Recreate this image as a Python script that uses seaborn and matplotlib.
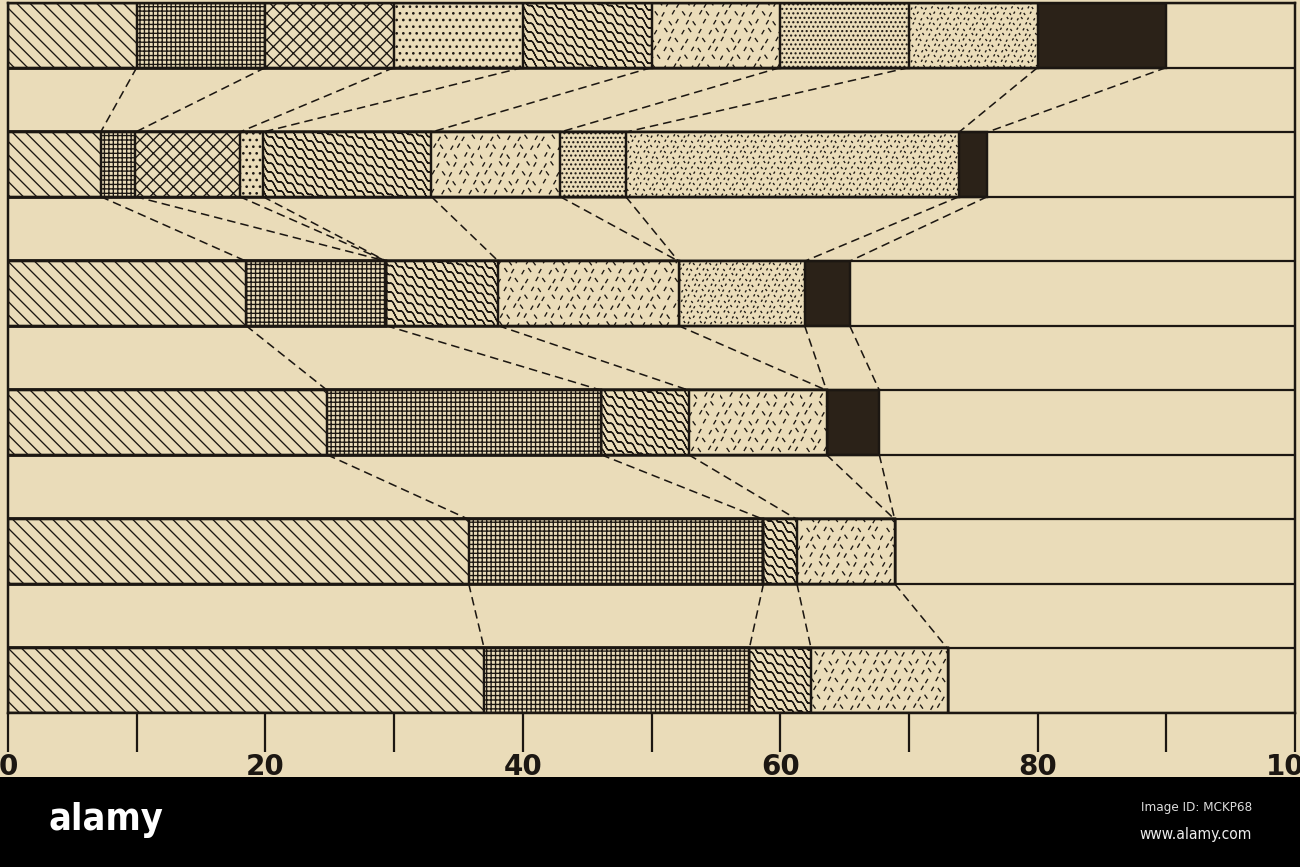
import warnings
import numpy as np
import pandas as pd
import seaborn as sns
import matplotlib
matplotlib.use("Agg")
import matplotlib.pyplot as plt
from matplotlib import hatch as mhatch
from matplotlib.path import Path
from matplotlib.patches import Rectangle
from matplotlib.ticker import MultipleLocator

# custom hatch chars ('~', ',', ':') are not in matplotlib's list -> silence the warning
warnings.filterwarnings("ignore", category=matplotlib.MatplotlibDeprecationWarning)

# percentage composition of each sample (top to bottom)
samples = ["1", "2", "3", "4", "5", "6"]
components = ["diagonal", "grid", "crosshatch", "dots", "waves",
              "dashes", "fine dots", "medium dots", "black"]
diagonal = [10.0, 7.2, 18.5, 24.8, 35.8, 37.0]
grid = [10.0, 2.7, 10.9, 21.3, 22.9, 20.6]
crosshatch = [10.0, 8.1, 0.0, 0.0, 0.0, 0.0]
dots = [10.0, 1.8, 0.0, 0.0, 0.0, 0.0]
waves = [10.0, 13.1, 8.7, 6.8, 2.6, 4.8]
dashes = [10.0, 10.0, 14.0, 10.7, 7.6, 10.6]
fine_dots = [10.0, 5.1, 0.0, 0.0, 0.0, 0.0]
medium_dots = [10.0, 25.9, 9.8, 0.0, 0.0, 0.0]
black = [10.0, 2.2, 3.5, 4.1, 0.0, 0.0]
tick_labels = ["0", "20", "40", "60", "80", "100"]

PAPER = "#eadcb9"
INK = "#1c1712"
DARK = "#2b2218"

hatches = {"diagonal": "\\\\", "grid": "+++", "crosshatch": "xx", "dots": "..",
           "waves": "~", "dashes": ",", "fine dots": "...", "medium dots": ":",
           "black": None}


# --- extra hatch patterns: wavy lines, short dashes, speckles ---
class WaveHatch(mhatch.HatchPatternBase):
    steps = 96

    def __init__(self, hatch, density):
        self.num_lines = int(hatch.count("~") * density * 1.5)
        self.num_vertices = (2 * self.num_lines + 1) * self.steps * 2 if self.num_lines else 0

    def set_vertices_and_codes(self, vertices, codes):
        n = self.num_lines
        t = np.linspace(0.0, 1.0, self.steps + 1)
        wave = 0.022 * np.sin(2 * np.pi * 8 * t)
        k = 0
        for j in range(2 * n + 1):
            seg = np.column_stack([t, j / n - t + wave])
            vertices[k:k + 2 * self.steps:2] = seg[:-1]
            vertices[k + 1:k + 2 * self.steps:2] = seg[1:]
            k += 2 * self.steps
        codes[0::2] = Path.MOVETO
        codes[1::2] = Path.LINETO


class StrokeHatch(mhatch.HatchPatternBase):
    char, scale, length = ",", 1.5, 0.045

    def __init__(self, hatch, density):
        self.n = int(hatch.count(self.char) * density * self.scale)
        self.num_vertices = 2 * self.n * self.n

    def set_vertices_and_codes(self, vertices, codes):
        n = self.n
        i, j = np.meshgrid(np.arange(n), np.arange(n))
        i, j = i.ravel(), j.ravel()
        jx = ((i * 7 + j * 3) % 5 - 2) * 0.08
        jy = ((i * 2 + j * 5) % 3 - 1) * 0.12
        cx = (i + 0.5 * (j % 2) + 0.25 + jx) / n
        cy = (j + 0.5 + jy) / n
        ang = np.where((i + 2 * j) % 3 == 0, np.radians(125), np.radians(60))
        dx = 0.5 * self.length * np.cos(ang)
        dy = 0.5 * self.length * np.sin(ang)
        vertices[0::2, 0] = cx - dx
        vertices[0::2, 1] = cy - dy
        vertices[1::2, 0] = cx + dx
        vertices[1::2, 1] = cy + dy
        codes[0::2] = Path.MOVETO
        codes[1::2] = Path.LINETO


class SpeckleHatch(StrokeHatch):
    char, scale, length = ":", 2.5, 0.014


mhatch._hatch_types.extend([WaveHatch, StrokeHatch, SpeckleHatch])

plt.rcParams["hatch.linewidth"] = 1.2
plt.rcParams["hatch.color"] = INK

df = pd.DataFrame({"diagonal": diagonal, "grid": grid, "crosshatch": crosshatch,
                   "dots": dots, "waves": waves, "dashes": dashes,
                   "fine dots": fine_dots, "medium dots": medium_dots,
                   "black": black}, index=samples)[components]
cum = df.cumsum(axis=1)

fig = plt.figure(figsize=(16.25, 10.8375), dpi=80, facecolor=PAPER)
ax = fig.add_axes([8 / 1300, 1 - 713 / 867, 1287 / 1300, 710 / 867])
ax.set_facecolor(PAPER)

# stacked bars: draw cumulative widths from the longest down, each covering the previous
for comp in reversed(components):
    face = DARK if comp == "black" else PAPER
    sns.barplot(x=cum[comp].values, y=samples, order=samples, orient="y",
                width=0.5, color=face, saturation=1, errorbar=None,
                edgecolor=INK, linewidth=2.2, hatch=hatches[comp],
                ax=ax, zorder=2)

# full-width rules at the top and bottom of every bar
edges = [i + d for i in range(len(samples)) for d in (-0.25, 0.25)]
ax.hlines(edges, 0, 100, color=INK, lw=2.0, zorder=3)

# dashed lines joining the same boundary in successive bars
for i in range(len(samples) - 1):
    for comp in components:
        if df.iloc[i][comp] == 0 and df.iloc[i + 1][comp] == 0:
            continue
        ax.plot([cum.iloc[i][comp], cum.iloc[i + 1][comp]], [i + 0.25, i + 0.75],
                color=INK, lw=1.4, ls=(0, (5.5, 3.2)), zorder=3)

ax.set_xlim(0, 100)
ax.set_ylim(len(samples) - 0.75, -0.25)
ax.set_yticks([])
ax.set_xlabel("")
ax.set_ylabel("")
for sp in ax.spines.values():
    sp.set_visible(True)
    sp.set_linewidth(2.2)
    sp.set_color(INK)

ax.xaxis.set_minor_locator(MultipleLocator(10))
ax.set_xticks(np.arange(0, 101, 20))
ax.set_xticklabels(tick_labels)
ax.tick_params(axis="x", which="both", direction="out", length=35, width=2,
               color=INK, pad=1)
ax.tick_params(axis="x", which="major", labelsize=25, labelcolor=INK)
for lab in ax.get_xticklabels():
    lab.set_fontweight("bold")

# stock-photo strip along the bottom
fig.add_artist(Rectangle((0, 0), 1, 90 / 867, transform=fig.transFigure,
                         facecolor="black", edgecolor="none", zorder=10))
fig.text(48 / 1300, 1 - 820 / 867, "alamy", color="white", fontsize=34,
         fontweight="bold", fontstretch="condensed", family="DejaVu Sans",
         ha="left", va="center", zorder=11)
fig.text(1252 / 1300, 1 - 808 / 867, "Image ID: MCKP68", color="#dddddd",
         fontsize=12, fontstretch="condensed", family="DejaVu Sans",
         ha="right", va="center", zorder=11)
fig.text(1252 / 1300, 1 - 834 / 867, "www.alamy.com", color="#eeeeee",
         fontsize=14, fontstretch="condensed", family="DejaVu Sans",
         ha="right", va="center", zorder=11)

fig.savefig("out.png", dpi=80, facecolor=PAPER)
